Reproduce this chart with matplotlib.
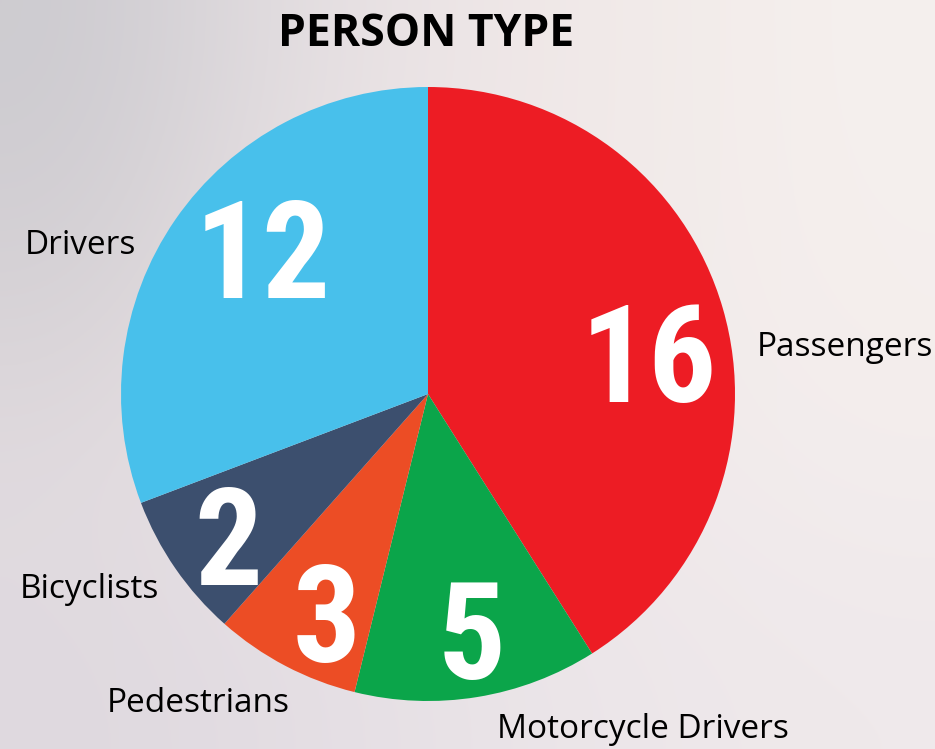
import matplotlib
matplotlib.use("Agg")
import matplotlib.pyplot as plt
from matplotlib import font_manager as fm
import numpy as np

# ---- data ----
categories = ["Passengers", "Motorcycle Drivers", "Pedestrians", "Bicyclists", "Drivers"]
values = [16, 5, 3, 2, 12]            # numbers printed on the slices
wedge_values = [16, 5, 3, 3, 12]      # slice sizes as drawn in the reference
colors = ["#ED1C24", "#0BA54A", "#EC4D25", "#3C4F6E", "#48C0EB"]
title = "PERSON TYPE"

# ---- layout constants (pixels, y measured from top) ----
W, H = 935, 749
center_px = (428, 394)
radius_px = 307
label_pos = {
    "Passengers": (757, 347),
    "Motorcycle Drivers": (497, 730),
    "Pedestrians": (107, 703),
    "Bicyclists": (20, 590),
    "Drivers": (25, 245),
}
# (center x, baseline y) of the big numbers
number_pos = {
    "Passengers": (649, 402),
    "Motorcycle Drivers": (472, 679),
    "Pedestrians": (327, 662),
    "Bicyclists": (228, 585),
    "Drivers": (263, 298),
}

# pick a narrow bold font for the big numbers if one is installed
def pick_narrow():
    prefs = ["Roboto Condensed", "Liberation Sans Narrow", "Open Sans Condensed",
             "Noto Sans Condensed", "DejaVu Sans Condensed"]
    entries = fm.fontManager.ttflist
    for name in prefs:
        for e in entries:
            if e.name == name and (e.weight in ("bold", 700) or
                                   (isinstance(e.weight, int) and e.weight >= 600)):
                if "Italic" not in e.fname:
                    return fm.FontProperties(fname=e.fname)
    for e in entries:
        st = str(e.stretch).lower()
        w = e.weight
        isbold = (w in ("bold", "heavy", "black")) or (isinstance(w, int) and w >= 600)
        if isbold and ("condensed" in st or "narrow" in e.name.lower()
                       or (isinstance(e.stretch, int) and e.stretch <= 300)):
            if "Italic" not in e.fname and "Oblique" not in e.fname:
                return fm.FontProperties(fname=e.fname)
    return fm.FontProperties(family="DejaVu Sans", weight="bold")

num_fp = pick_narrow()
num_fp.set_size(97)

fig = plt.figure(figsize=(W / 100, H / 100), dpi=100)
ax = fig.add_axes([0, 0, 1, 1])

# background gradient
grid = np.array([
    [[205, 203, 208], [226, 221, 224], [238, 230, 231], [242, 235, 233], [245, 240, 238]],
    [[213, 209, 213], [233, 225, 227], [239, 231, 232], [242, 235, 234], [245, 239, 237]],
    [[225, 219, 223], [235, 227, 229], [238, 231, 233], [241, 234, 235], [243, 237, 237]],
    [[223, 217, 223], [227, 221, 227], [233, 227, 231], [237, 231, 234], [239, 233, 235]],
], dtype=float) / 255.0
ax.imshow(grid, extent=(0, W, 0, H), interpolation="bicubic", aspect="auto", zorder=0)

cx, cy = center_px[0], H - center_px[1]
ax.pie(wedge_values, colors=colors, startangle=90, counterclock=False,
       center=(cx, cy), radius=radius_px, frame=True,
       wedgeprops=dict(linewidth=0))
ax.set_xlim(0, W)
ax.set_ylim(0, H)
ax.axis("off")

for cat, val in zip(categories, values):
    lx, ly = label_pos[cat]
    ax.text(lx, H - ly, cat, ha="left", va="center", fontsize=24,
            family="Open Sans", color="black", zorder=5)
    nx, ny = number_pos[cat]
    ax.text(nx, H - ny, str(val), ha="center", va="baseline",
            fontproperties=num_fp, color="white", zorder=5)

ax.text(426, H - 34, title, ha="center", va="center", fontsize=32,
        family="Open Sans", fontweight="bold", color="black", zorder=5)

fig.savefig("out.png", dpi=100)
